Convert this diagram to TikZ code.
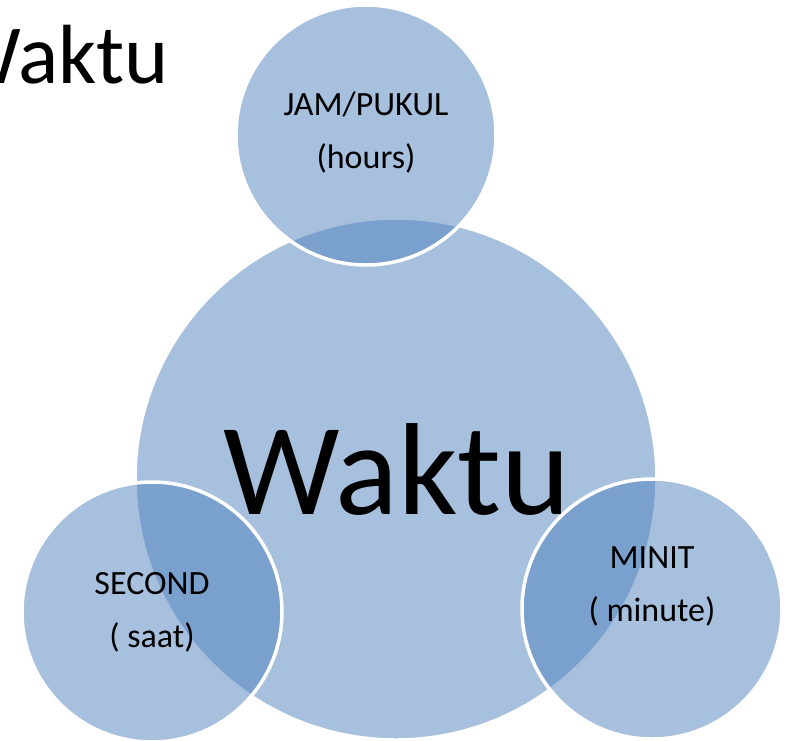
\documentclass[tikz,border=0pt]{standalone}
\usepackage{fontspec}
\setmainfont{Carlito}
\definecolor{vennblue}{HTML}{4F81BD}

\begin{document}
\begin{tikzpicture}[x=1pt,y=-1pt,every node/.style={inner sep=0pt},
	bubble/.style={circle,draw=white,line width=3.5pt,fill=vennblue,fill opacity=0.5},
	tag/.style={align=center,font=\fontsize{34}{53}\selectfont}]
\useasboundingbox (0,0) rectangle (792,740);
\clip (0,0) rectangle (792,740);

%circles
\node[bubble,minimum size=522pt] (waktu) at (396,479) {};
\foreach \name/\x/\y in {hour/366/135,second/152/612,minute/652/609}
	\node[bubble,minimum size=260pt] (\name) at (\x,\y) {};

%labels
\node[anchor=base east,font=\fontsize{84}{84}\selectfont] (title) at (169,83) {Waktu};
\node[anchor=base,font=\fontsize{131}{131}\selectfont] (centre) at (397,514) {Waktu};
\node[tag] (hourtag) at (366,133) {JAM/PUKUL\\(hours)};
\node[tag] (secondtag) at (152,612) {SECOND\\( saat)};
\node[tag] (minutetag) at (652,586) {MINIT\\( minute)};

\end{tikzpicture}
\end{document}
